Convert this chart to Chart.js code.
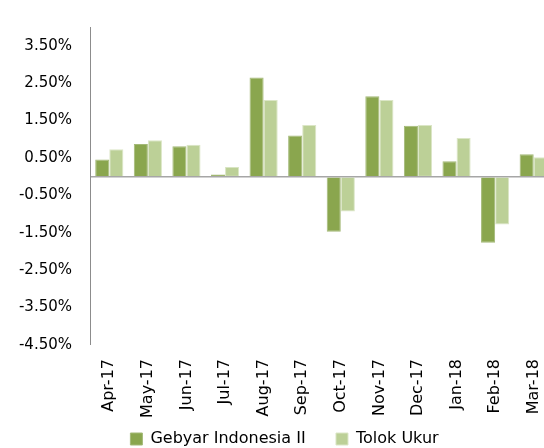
<!DOCTYPE html>
<html>
<head>
<meta charset="utf-8">
<script src="https://cdn.jsdelivr.net/npm/chart.js@4/dist/chart.umd.min.js"></script>
<style>
  html, body { margin: 0; padding: 0; background: #fff; overflow: hidden; }
  #wrap { width: 600px; height: 457px; }
  #chart { width: 600px; height: 457px; display: block; }
</style>
</head>
<body>
<div id="wrap"><canvas id="chart" width="600" height="457"></canvas></div>
<script>
// monthly returns, in percent
const months = ['Apr-17', 'May-17', 'Jun-17', 'Jul-17', 'Aug-17', 'Sep-17',
                'Oct-17', 'Nov-17', 'Dec-17', 'Jan-18', 'Feb-18', 'Mar-18'];
const gebyarValues = [0.46, 0.87, 0.81, 0.06, 2.65, 1.10, -1.47, 2.15, 1.36, 0.41, -1.77, 0.60];
const tolokValues  = [0.73, 0.97, 0.85, 0.26, 2.05, 1.38, -0.93, 2.05, 1.38, 1.03, -1.28, 0.52];
const yTicks = [-4.5, -3.5, -2.5, -1.5, -0.5, 0, 0.5, 1.5, 2.5, 3.5];

const darkGreen = '#8aa64e';
const lightGreen = '#bcd097';
const textColor = '#000000';

new Chart(document.getElementById('chart').getContext('2d'), {
    type: 'bar',
    data: {
        labels: months,
        datasets: [
            {
                label: 'Gebyar Indonesia II',
                data: gebyarValues,
                backgroundColor: darkGreen,
                borderColor: '#a3b977',
                borderWidth: 1
            },
            {
                label: 'Tolok Ukur',
                data: tolokValues,
                backgroundColor: lightGreen,
                borderColor: '#dbe6c6',
                borderWidth: 1
            }
        ]
    },
    options: {
        responsive: false,
        animation: false,
        layout: { padding: { top: 23, right: 47, left: 16, bottom: 0 } },
        datasets: {
            bar: { categoryPercentage: 0.73, barPercentage: 1.0 }
        },
        scales: {
            x: {
                grid: { display: false, drawTicks: false },
                border: { display: false },
                ticks: {
                    autoSkip: false,
                    minRotation: 90,
                    maxRotation: 90,
                    padding: 14,
                    color: textColor,
                    font: { family: 'DejaVu Sans', size: 16 }
                },
                afterFit(scale) {
                    scale.height = 76;
                }
            },
            y: {
                min: -4.5,
                max: 4.0,
                afterBuildTicks(scale) {
                    scale.ticks = yTicks.map(v => ({ value: v }));
                },
                afterFit(scale) {
                    scale.width = 74;
                },
                border: { display: true, color: '#8c8c8c', width: 1 },
                grid: {
                    drawTicks: false,
                    color(c) {
                        return c.tick && c.tick.value === 0 ? '#a6a6a6' : 'rgba(0,0,0,0)';
                    },
                    lineWidth(c) {
                        return c.tick && c.tick.value === 0 ? 1.5 : 0;
                    }
                },
                ticks: {
                    autoSkip: false,
                    padding: 18,
                    color: textColor,
                    font: { family: 'DejaVu Sans', size: 15 },
                    callback(value) {
                        return value === 0 ? '' : value.toFixed(2) + '%';
                    }
                }
            }
        },
        plugins: {
            legend: {
                position: 'bottom',
                labels: {
                    boxWidth: 12,
                    boxHeight: 12,
                    padding: 10,
                    color: textColor,
                    font: { family: 'DejaVu Sans', size: 16 },
                    generateLabels(chart) {
                        const items = Chart.defaults.plugins.legend.labels.generateLabels(chart);
                        // wider gap between the two entries, as in the original
                        items[0].text += '    ';
                        return items;
                    }
                }
            },
            tooltip: { enabled: false }
        }
    }
});
</script>
</body>
</html>
